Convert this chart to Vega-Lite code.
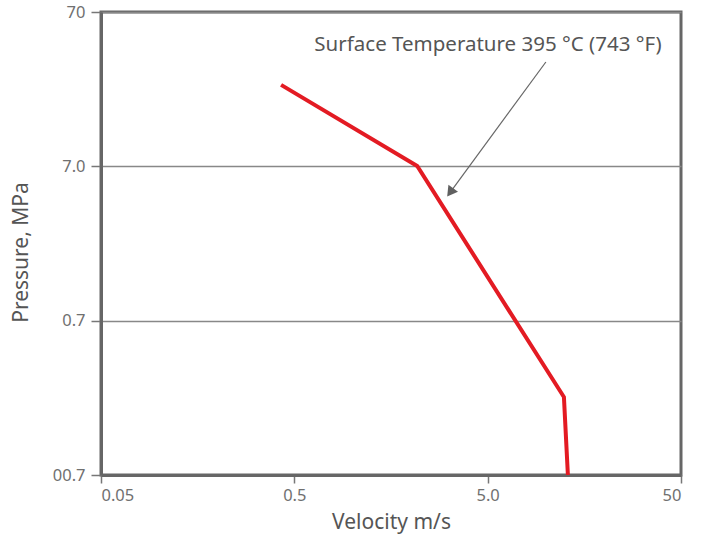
{
  "$schema": "https://vega.github.io/schema/vega-lite/v6.json",
  "width": 580,
  "height": 463,
  "autosize": {"type": "none"},
  "padding": {"left": 101, "top": 12, "right": 21, "bottom": 61},
  "background": "white",
  "config": {
    "font": "Noto Sans",
    "view": {"stroke": "#666666", "strokeWidth": 3},
    "axis": {
      "domainColor": "#666666",
      "domainWidth": 3,
      "tickColor": "#777777",
      "tickWidth": 1.5,
      "labelColor": "#707070",
      "labelFont": "Noto Sans",
      "labelFontSize": 16.5,
      "titleColor": "#555555",
      "titleFont": "Noto Sans",
      "titleFontSize": 21,
      "titleFontWeight": "normal"
    }
  },
  "datasets": {
    "curve": [
      {"velocity": 0.427, "pressure": 23.6},
      {"velocity": 2.16, "pressure": 7.03},
      {"velocity": 12.4, "pressure": 0.224},
      {"velocity": 13.0, "pressure": 0.07}
    ],
    "arrow": [
      {"velocity": 10.0, "pressure": 33.2},
      {"velocity": 3.2, "pressure": 4.75}
    ],
    "arrowhead": [
      {"velocity": 3.2, "pressure": 4.75}
    ],
    "label": [
      {"velocity": 5.02, "pressure": 42.8, "text": "Surface Temperature 395 °C (743 °F)"}
    ]
  },
  "layer": [
    {
      "data": {"name": "curve"},
      "mark": {"type": "line", "color": "#e31b23", "strokeWidth": 4, "clip": true},
      "encoding": {
        "x": {
          "field": "velocity",
          "type": "quantitative",
          "title": "Velocity m/s",
          "scale": {"type": "log", "domain": [0.05, 50], "nice": false},
          "axis": {
            "values": [0.05, 0.5, 5, 50],
            "labelExpr": "datum.value < 0.1 ? '0.05' : datum.value < 1 ? '0.5' : datum.value < 10 ? '5.0' : '50'",
            "grid": false,
            "tickSize": 8,
            "labelPadding": 4,
            "titleY": 47,
            "titleBaseline": "middle"
          }
        },
        "y": {
          "field": "pressure",
          "type": "quantitative",
          "title": "Pressure, MPa",
          "scale": {"type": "log", "domain": [0.07, 70], "nice": false},
          "axis": {
            "values": [0.07, 0.7, 7, 70],
            "labelExpr": "datum.value > 50 ? '70' : datum.value > 5 ? '7.0' : datum.value > 0.5 ? '0.7' : '00.7'",
            "grid": true,
            "gridColor": "#888888",
            "gridWidth": 1.5,
            "tickSize": 10,
            "labelPadding": 6,
            "titleX": -80,
            "titleY": 240,
            "titleBaseline": "middle"
          }
        },
        "order": {"field": "pressure", "sort": "descending"}
      }
    },
    {
      "data": {"name": "arrow"},
      "mark": {"type": "line", "color": "#666666", "strokeWidth": 1.2},
      "encoding": {
        "x": {"field": "velocity", "type": "quantitative"},
        "y": {"field": "pressure", "type": "quantitative"}
      }
    },
    {
      "data": {"name": "arrowhead"},
      "mark": {"type": "point", "shape": "triangle-up", "filled": true, "color": "#606060", "opacity": 1, "size": 140, "angle": 216},
      "encoding": {
        "x": {"field": "velocity", "type": "quantitative"},
        "y": {"field": "pressure", "type": "quantitative"}
      }
    },
    {
      "data": {"name": "label"},
      "mark": {"type": "text", "fontSize": 20.5, "color": "#555555", "align": "center", "baseline": "middle", "font": "Noto Sans"},
      "encoding": {
        "x": {"field": "velocity", "type": "quantitative"},
        "y": {"field": "pressure", "type": "quantitative"},
        "text": {"field": "text"}
      }
    }
  ]
}
